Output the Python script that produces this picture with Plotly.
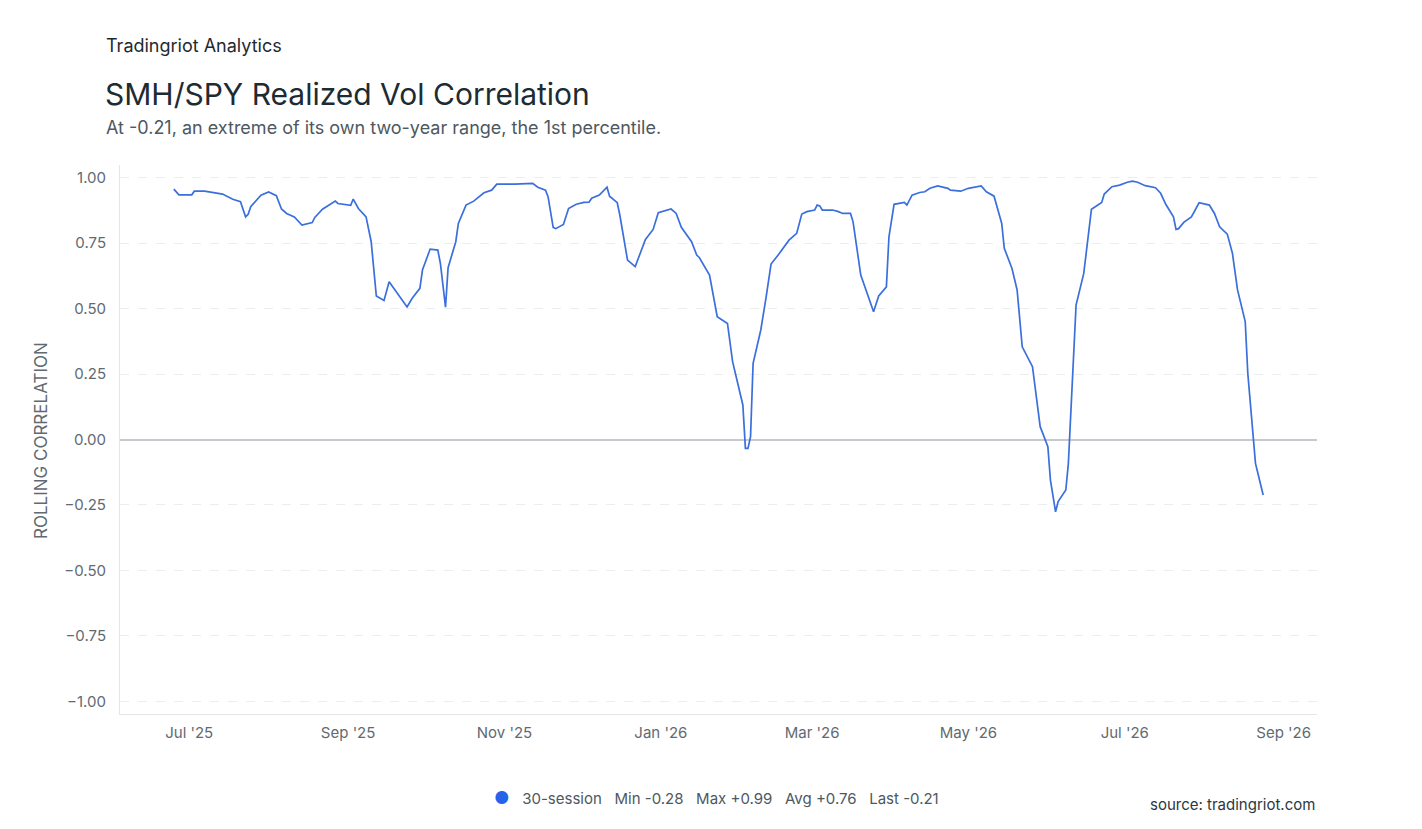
import plotly.graph_objects as go

dates = [
    "2025-06-25", "2025-06-27", "2025-07-02", "2025-07-03", "2025-07-07", "2025-07-10",
    "2025-07-14", "2025-07-18", "2025-07-21", "2025-07-23", "2025-07-24", "2025-07-25",
    "2025-07-29", "2025-08-01", "2025-08-04", "2025-08-06", "2025-08-08", "2025-08-11",
    "2025-08-14", "2025-08-18", "2025-08-19", "2025-08-22", "2025-08-25", "2025-08-27",
    "2025-08-28", "2025-09-02", "2025-09-03", "2025-09-05", "2025-09-08", "2025-09-10",
    "2025-09-12", "2025-09-15", "2025-09-17", "2025-09-24", "2025-09-26", "2025-09-29",
    "2025-09-30", "2025-10-03", "2025-10-06", "2025-10-07", "2025-10-09", "2025-10-10",
    "2025-10-13", "2025-10-14", "2025-10-17", "2025-10-20", "2025-10-24", "2025-10-27",
    "2025-10-29", "2025-11-05", "2025-11-12", "2025-11-14", "2025-11-17", "2025-11-18",
    "2025-11-20", "2025-11-21", "2025-11-24", "2025-11-26", "2025-11-29", "2025-12-02",
    "2025-12-04", "2025-12-05", "2025-12-08", "2025-12-11", "2025-12-12", "2025-12-15",
    "2025-12-16", "2025-12-19", "2025-12-22", "2025-12-24", "2025-12-26", "2025-12-29",
    "2025-12-31", "2026-01-05", "2026-01-07", "2026-01-09", "2026-01-13", "2026-01-15",
    "2026-01-16", "2026-01-20", "2026-01-23", "2026-01-27", "2026-01-29", "2026-02-02",
    "2026-02-03", "2026-02-04", "2026-02-05", "2026-02-06", "2026-02-09", "2026-02-11",
    "2026-02-13", "2026-02-16", "2026-02-20", "2026-02-23", "2026-02-25", "2026-02-27",
    "2026-03-02", "2026-03-03", "2026-03-04", "2026-03-05", "2026-03-09", "2026-03-11",
    "2026-03-13", "2026-03-16", "2026-03-17", "2026-03-20", "2026-03-25", "2026-03-27",
    "2026-03-30", "2026-03-31", "2026-04-02", "2026-04-06", "2026-04-07", "2026-04-09",
    "2026-04-12", "2026-04-14", "2026-04-16", "2026-04-19", "2026-04-23", "2026-04-24",
    "2026-04-28", "2026-05-01", "2026-05-04", "2026-05-06", "2026-05-08", "2026-05-11",
    "2026-05-14", "2026-05-15", "2026-05-18", "2026-05-20", "2026-05-22", "2026-05-26",
    "2026-05-29", "2026-06-01", "2026-06-02", "2026-06-04", "2026-06-05", "2026-06-08",
    "2026-06-09", "2026-06-11", "2026-06-12", "2026-06-15", "2026-06-18", "2026-06-22",
    "2026-06-23", "2026-06-26", "2026-06-29", "2026-07-02", "2026-07-04", "2026-07-06",
    "2026-07-09", "2026-07-13", "2026-07-15", "2026-07-17", "2026-07-20", "2026-07-21",
    "2026-07-22", "2026-07-24", "2026-07-27", "2026-07-30", "2026-08-03", "2026-08-05",
    "2026-08-07", "2026-08-10", "2026-08-12", "2026-08-14", "2026-08-17", "2026-08-18",
    "2026-08-21", "2026-08-24",
]

corr_30 = [
    0.956, 0.934, 0.934, 0.948, 0.948, 0.943,
    0.937, 0.917, 0.908, 0.850, 0.860, 0.889,
    0.933, 0.945, 0.931, 0.880, 0.863, 0.850,
    0.819, 0.828, 0.848, 0.879, 0.898, 0.910,
    0.901, 0.894, 0.918, 0.882, 0.850, 0.755,
    0.548, 0.531, 0.602, 0.506, 0.539, 0.577,
    0.647, 0.727, 0.723, 0.672, 0.505, 0.656,
    0.755, 0.825, 0.895, 0.910, 0.942, 0.952,
    0.975, 0.975, 0.978, 0.963, 0.952, 0.927,
    0.810, 0.805, 0.821, 0.882, 0.898, 0.905,
    0.906, 0.921, 0.933, 0.963, 0.929, 0.904,
    0.857, 0.685, 0.660, 0.711, 0.764, 0.802,
    0.866, 0.880, 0.863, 0.810, 0.755, 0.704,
    0.695, 0.628, 0.469, 0.443, 0.297, 0.132,
    -0.034, -0.034, 0.011, 0.291, 0.418, 0.539,
    0.670, 0.707, 0.761, 0.787, 0.861, 0.870,
    0.876, 0.895, 0.892, 0.876, 0.876, 0.871,
    0.863, 0.863, 0.831, 0.628, 0.488, 0.548,
    0.583, 0.774, 0.898, 0.905, 0.895, 0.933,
    0.943, 0.946, 0.959, 0.968, 0.959, 0.952,
    0.948, 0.959, 0.965, 0.968, 0.946, 0.929,
    0.825, 0.730, 0.653, 0.571, 0.354, 0.278,
    0.049, -0.027, -0.155, -0.276, -0.237, -0.193,
    -0.091, 0.330, 0.513, 0.634, 0.879, 0.905,
    0.937, 0.965, 0.971, 0.982, 0.986, 0.982,
    0.969, 0.961, 0.940, 0.898, 0.850, 0.802,
    0.805, 0.829, 0.850, 0.904, 0.895, 0.863,
    0.812, 0.784, 0.711, 0.571, 0.450, 0.253,
    -0.091, -0.212,
]

y_ticks = [1.0, 0.75, 0.5, 0.25, 0.0, -0.25, -0.5, -0.75, -1.0]

series_name = "30-session"
legend_stats = ["Min -0.28", "Max +0.99", "Avg +0.76", "Last -0.21"]

kicker = "Tradingriot Analytics"
title = "SMH/SPY Realized Vol Correlation"
subtitle = "At -0.21, an extreme of its own two-year range, the 1st percentile."
y_title = "ROLLING CORRELATION"
source = "source: tradingriot.com"

FONT = "Inter, Liberation Sans, Arial, sans-serif"
LINE = "#3a6fdc"
TICK = "#5f6a72"

fig = go.Figure()
fig.add_trace(go.Scatter(
    x=dates, y=corr_30, mode="lines", name=series_name,
    line=dict(color=LINE, width=1.7), showlegend=False,
))

# page has an 8px body margin; plot area lands at x 120..1317, y 165..714
fig.update_layout(
    width=1422, height=829,
    margin=dict(l=112, r=113, t=157, b=123),
    paper_bgcolor="white", plot_bgcolor="white",
    font=dict(family=FONT, color=TICK, size=15),
    showlegend=False,
)

fig.update_xaxes(
    type="date",
    range=["2025-06-04", "2026-09-14"],
    tick0="2025-07-01", dtick="M2", tickformat="%b '%y",
    showgrid=False, showline=True, linecolor="#e4e6e8", linewidth=1,
    ticks="", ticklabelstandoff=5, tickfont=dict(size=15, color=TICK),
    zeroline=False,
)
fig.update_yaxes(
    range=[-1.048, 1.048],
    tickvals=y_ticks, tickformat=".2f",
    showgrid=True, gridcolor="#ebedef", griddash="dash", gridwidth=1,
    showline=True, linecolor="#e4e6e8", linewidth=1,
    zeroline=True, zerolinecolor="#c6cacf", zerolinewidth=1.5,
    ticks="", ticklabelstandoff=10, tickfont=dict(size=15, color=TICK),
)

def px(x):
    return (x - 120) / 1197.0

def py(y):
    return (714 - y) / 549.0

anns = [
    dict(text=kicker, x=px(104), y=py(46), font=dict(size=18, color="#1f2a30"), xanchor="left"),
    dict(text=title, x=px(103), y=py(94), font=dict(size=30, color="#1d2b33"), xanchor="left"),
    dict(text=subtitle, x=px(104), y=py(127), font=dict(size=18, color="#4d5861"), xanchor="left"),
    dict(text=y_title, x=px(41), y=py(441), textangle=-90, font=dict(size=17, color=TICK), xanchor="center"),
    dict(text=source, x=px(1317), y=py(804), font=dict(size=15, color="#2d373d"), xanchor="right"),
]
legend_text = (
    '<span style="color:#2563eb;font-size:17px">●</span>   '
    + series_name + "   " + "   ".join(legend_stats)
)
anns.append(dict(text=legend_text, x=px(716), y=py(798), font=dict(size=15, color="#4d5861"), xanchor="center"))

for a in anns:
    a.update(xref="paper", yref="paper", yanchor="middle", showarrow=False, align="left")
    fig.add_annotation(**a)

fig.write_html("out.html")
